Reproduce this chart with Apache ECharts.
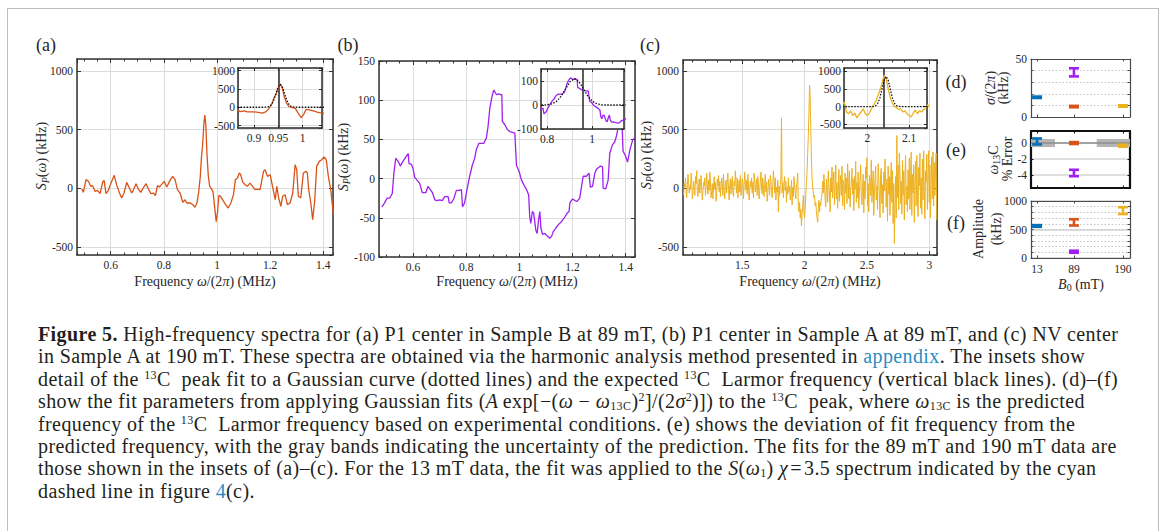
<!DOCTYPE html>
<html lang="en">
<head>
<meta charset="utf-8">
<title>Figure 5 – high-frequency spectra</title>
<script src="https://cdn.jsdelivr.net/npm/echarts@6.0.0/dist/echarts.min.js"></script>
<style>
  html, body { margin:0; padding:0; background:#fff; }
  #page { position:relative; width:1167px; height:531px; overflow:hidden; background:#fff; }
  #border { position:absolute; left:7px; top:8px; width:1152px; height:620px; border:1.5px solid #bdbdbd; box-sizing:border-box; }
  #chart { position:absolute; left:0; top:0; width:1167px; height:300px; }
  #caption { position:absolute; left:38px; top:323px; font-family:'Liberation Serif','Times New Roman',serif;
             font-size:20px; line-height:22.4px; letter-spacing:0.4px; color:#231f20; white-space:nowrap; }
  #caption .ln { display:block; }
  #caption .link { color:#2b8cc4; }
  #caption sup { font-size:60%; line-height:0; vertical-align:7px; }
  #caption sub { font-size:60%; line-height:0; vertical-align:-1.5px; }
</style>
</head>
<body>
<div id="page">
  <div id="border"></div>
  <div id="chart"></div>
  <div id="caption">
    <span class="ln"><b>Figure 5.</b> High-frequency spectra for (a) P1 center in Sample B at 89 mT, (b) P1 center in Sample A at 89 mT, and (c) NV center</span>
    <span class="ln">in Sample A at 190 mT. These spectra are obtained via the harmonic analysis method presented in <span class="link">appendix</span>. The insets show</span>
    <span class="ln">detail of the <sup>13</sup>C&nbsp; peak fit to a Gaussian curve (dotted lines) and the expected <sup>13</sup>C&nbsp; Larmor frequency (vertical black lines). (d)–(f)</span>
    <span class="ln">show the fit parameters from applying Gaussian fits (<i>A</i>&#8201;exp[−(<i>ω</i> − <i>ω</i><sub>13C</sub>)<sup>2</sup>]/(2<i>σ</i><sup>2</sup>)]) to the <sup>13</sup>C&nbsp; peak, where <i>ω</i><sub>13C</sub> is the predicted</span>
    <span class="ln">frequency of the <sup>13</sup>C&nbsp; Larmor frequency based on experimental conditions. (e) shows the deviation of fit frequency from the</span>
    <span class="ln">predicted frequency, with the gray bands indicating the uncertainty of the prediction. The fits for the 89 mT and 190 mT data are</span>
    <span class="ln">those shown in the insets of (a)–(c). For the 13 mT data, the fit was applied to the <i>S</i>(<i>ω</i><sub>1</sub>) <i>χ</i>&#8202;=&#8202;3.5 spectrum indicated by the cyan</span>
    <span class="ln">dashed line in figure <span class="link">4</span>(c).</span>
  </div>
</div>
<script>
// ---------------- data ----------------
// (a) P1 center, Sample B, 89 mT
const freqA = [0.491,0.497,0.507,0.516,0.525,0.532,0.541,0.550,0.560,0.570,0.575,0.582,0.591,0.600,0.613,0.623,0.633,0.641,0.650,0.660,
  0.670,0.679,0.685,0.695,0.704,0.713,0.723,0.733,0.742,0.751,0.761,0.768,0.776,0.783,0.792,0.801,0.811,0.823,0.833,0.842,
  0.851,0.861,0.871,0.880,0.886,0.899,0.909,0.917,0.925,0.931,0.937,0.941,0.946,0.951,0.954,0.958,0.962,0.967,0.972,0.978,
  0.985,0.991,0.997,1.002,1.007,1.014,1.022,1.030,1.042,1.052,1.062,1.069,1.077,1.084,1.089,1.097,1.106,1.114,1.124,1.134,
  1.143,1.152,1.162,1.175,1.181,1.190,1.200,1.210,1.219,1.225,1.232,1.240,1.247,1.256,1.265,1.275,1.285,1.294,1.300,1.306,
  1.315,1.325,1.335,1.340,1.345,1.353,1.360,1.368,1.375,1.385,1.394,1.403,1.411,1.419,1.428,1.438];
const spectrumA = [-5,-34,74,60,17,23,-26,-17,-45,57,68,-45,-17,40,111,23,-40,-82,-40,51,
  3,-40,-17,40,-6,-34,6,40,-6,-45,-40,-62,23,11,34,60,11,68,102,74,
  -11,-40,-119,-97,-125,-125,-139,-162,-120,-30,100,250,380,560,625,540,300,110,20,0,
  -30,-160,-285,-200,-60,-70,-100,-130,-168,-125,-54,74,88,131,116,51,31,17,45,17,
  -11,-6,-11,145,159,102,116,3,-97,17,-82,-153,-68,-54,-139,-125,-40,202,159,-68,
  -82,131,145,131,-11,-125,-267,-97,187,230,244,267,244,102,-11,-224];

// (b) P1 center, Sample A, 89 mT
const freqB = [0.483,0.493,0.502,0.512,0.522,0.528,0.535,0.544,0.552,0.562,0.572,0.582,0.585,0.594,0.600,0.606,0.615,0.625,0.635,0.648,
  0.656,0.665,0.673,0.682,0.690,0.700,0.710,0.719,0.732,0.736,0.744,0.753,0.763,0.773,0.782,0.786,0.794,0.803,0.813,0.823,
  0.832,0.838,0.848,0.857,0.866,0.876,0.882,0.889,0.897,0.904,0.914,0.924,0.929,0.934,0.936,0.945,0.954,0.964,0.974,0.983,
  0.989,0.999,1.008,1.017,1.027,1.035,1.039,1.043,1.049,1.054,1.062,1.067,1.072,1.077,1.081,1.087,1.096,1.104,1.114,1.121,
  1.127,1.137,1.146,1.158,1.171,1.180,1.187,1.190,1.200,1.209,1.217,1.227,1.240,1.252,1.262,1.267,1.275,1.284,1.290,1.305,
  1.313,1.315,1.325,1.334,1.340,1.350,1.359,1.365,1.372,1.378,1.384,1.390,1.398,1.407,1.416,1.426,1.434];
const spectrumB = [-36,-31,-25,-25,-19,7,26,22,16,22,27,32,19,18,13,2,-2,-6,-18,-18,
  -10,-14,-18,-27,-28,-27,-28,-23,-23,-31,-31,-26,-15,-15,-14,-36,-31,-14,3,17,
  26,37,45,45,45,52,66,90,105,113,107,108,107,107,73,69,63,60,59,58,
  17,9,-2,-8,-14,-21,-49,-57,-42,-44,-66,-70,-53,-42,-63,-71,-70,-73,-76,-74,
  -68,-63,-59,-55,-49,-44,-42,-31,-26,-28,-29,-25,3,3,7,-11,-10,7,12,16,
  15,-12,-13,-2,32,43,47,54,66,77,92,35,30,21,37,49,52];

// (c) NV center, Sample A, 190 mT — sampled every 5 kHz from 1.03 MHz
const freqCStart = 1.03, freqCStep = 0.005;
const spectrumC = [
  -60,40,10,90,-20,-80,30,120,50,-40,       20,-10,130,70,-90,-30,60,0,-60,100,
  40,150,-20,-70,10,80,-40,60,110,-10,      -100,-30,50,20,90,-60,10,130,30,-50,
  70,-20,140,60,-80,-30,40,-90,20,100,      -10,50,-110,-40,80,20,110,-30,60,-70,
  10,90,40,-60,120,-20,-90,30,70,-40,       50,130,-10,-100,20,80,-50,40,100,-30,
  -70,60,20,150,40,-40,90,-80,10,70,        -30,110,-60,0,80,40,-90,30,140,60,
  -20,70,-50,120,30,-100,-20,60,10,90,      -40,50,-80,130,70,-30,20,80,-60,100,
  30,-90,-20,60,140,10,-50,90,-10,-70,      40,120,-30,50,-110,-40,80,20,-60,110,
  60,-20,-80,30,150,70,-40,90,-100,10,      -30,70,-200,20,-60,30,80,600,-40,50,
  -80,40,100,-20,60,-120,10,-50,90,-30,     20,-100,-40,70,-140,10,-70,100,30,-40,
  -90,30,50,130,-150,-200,-120,-250,-180,-320,  -220,-150,-60,-200,-250,-180,-50,50,150,300,
  450,650,880,780,500,250,100,0,-30,-80,    -60,-150,-120,-200,-250,-290,-180,-100,-200,-120,
  -150,-80,-50,60,-40,120,30,-90,-160,80,   10,-120,150,40,-60,-200,90,-30,180,-80,
  60,140,-140,20,200,-90,50,-170,-40,160,   -110,30,110,-60,190,-150,70,0,-180,130,
  -40,90,-130,210,60,-90,150,-160,-20,40,   170,-50,80,-190,100,-10,230,-120,50,-80,
  140,-170,-30,80,200,-60,-140,10,120,-210, 60,-90,180,90,260,-150,40,-200,110,70,
  -60,240,-120,30,150,-230,-60,90,190,-100, 20,-180,210,80,-70,-250,120,170,-130,30,
  -210,140,-20,250,60,-160,80,-280,190,-50, 100,-230,60,220,-120,150,-300,40,-470,-150,
  100,-250,450,-80,200,-180,300,120,-130,60, -220,240,-60,150,-270,90,280,-140,20,-200,
  160,-90,260,-180,70,310,-230,120,-40,200, -290,50,230,-150,280,-60,-240,180,20,300,
  -170,90,-220,250,-100,320,-30,-260,150,60, 290,-180,110,320,-120,200,-250,40,270,-90,
  310,-150,220,-60,180,300,-270];

// Gaussian fits of the 13C peak (dotted curves in the insets)
const fitFreqA = [0.86,0.88,0.90,0.914,0.919,0.924,0.929,0.934,0.939,0.944,0.949,0.954,0.959,0.964,0.969,0.974,0.979,0.984,0.989,0.994,1.01,1.03,1.05];
const fitA     = [0,0,0,0,0,2,10,45,143,326,534,630,534,326,143,45,10,2,0,0,0,0,0];
const fitFreqB = [0.762,0.782,0.802,0.822,0.842,0.862,0.882,0.902,0.922,0.942,0.962,0.982,1.002,1.022,1.042,1.062,1.082,1.15];
const fitB     = [0,0,1,5,15,36,67,97,110,97,67,36,15,5,1,0,0,0];
const fitFreqC = [1.94,1.98,2.00,2.01,2.015,2.02,2.025,2.03,2.035,2.04,2.045,2.05,2.055,2.06,2.065,2.07,2.075,2.08,2.09,2.11,2.15];
const fitC     = [0,0,0,1,6,27,93,244,489,740,850,740,489,244,93,27,6,1,0,0,0];

// expected 13C Larmor frequencies (MHz)
const larmorA = 0.954, larmorB = 0.957, larmorC = 2.045;

// fit parameters vs field: 13 mT, 89 mT (Sample B), 89 mT (Sample A), 190 mT
const fieldB0     = [13, 89, 89, 190];
const fieldTicks  = [13, 89, 190];
const sigmaKHz    = [17, 9, 38.5, 9.5];
const sigmaErr    = [0.6, 0.6, 3.5, 0.6];
const sigmaTicks  = [0, 50];
const freqDevPct  = [0.2, 0.0, -3.73, -0.33];
const freqDevErr  = [0.37, 0.12, 0.4, 0.12];
const freqDevTicks = [-4, -2, 0];
const ampKHz      = [562, 625, 110, 831];
const ampErr      = [15, 55, 18, 60];
const ampTicks    = [0, 500, 1000];
// uncertainty bands of the predicted frequency (field range, ± % error)
const bandFrom = [0, 136], bandTo = [50, 204.5], bandHalf = [0.5, 0.5];
const predictedDev = 0;

// ---------------- styles ----------------
const FONT = "'Liberation Serif','Times New Roman',serif";
const INK = '#262626';
const GRID_LINE = '#dcdcdc';
const ORANGE = '#D95319', PURPLE = '#A020F0', YELLOW = '#EDB120', BLUE = '#0072BD';
const pointColors = [BLUE, ORANGE, PURPLE, YELLOW];
const plain = v => String(+(+v).toFixed(6));

const grids = [], xAxes = [], yAxes = [], series = [], graphics = [];

function addGrid(left, top, width, height) {
  grids.push({left, top, width, height, containLabel:false, outerBoundsMode:'none'});
  return grids.length - 1;
}

function addAxis(dim, gi, o) {
  const color = o.color || INK;
  const ax = {
    type:'value', gridIndex:gi, position:o.pos, min:o.min, max:o.max, z:o.z || 0,
    axisLine:{show:o.line !== false, onZero:false, lineStyle:{color, width:o.width || 1.5}},
    axisTick:{show:!!o.tick, inside:true, length:o.tick || 0, lineStyle:{color, width:1}},
    axisLabel:{show:!!o.labels, margin:(o.margin != null ? o.margin : 4), fontFamily:FONT, fontSize:o.fontSize || 11.5,
               color:INK, showMinLabel:!!o.showMin, showMaxLabel:!!o.showMax, hideOverlap:false, formatter:plain},
    splitLine:{show:!!o.split, lineStyle:o.splitStyle || {color:GRID_LINE, width:1}},
    minorTick:{show:false}, minorSplitLine:{show:false}
  };
  if (o.step) { ax.minInterval = o.step; ax.maxInterval = o.step; }
  if (o.interval) ax.interval = o.interval;
  if (o.custom) { ax.axisLabel.customValues = o.custom; ax.axisTick.customValues = o.custom; }
  if (o.labelValues) ax.axisLabel.customValues = o.labelValues;
  const list = dim === 'x' ? xAxes : yAxes;
  list.push(ax);
  return list.length - 1;
}

// a boxed panel: labelled bottom/left axes plus mirrored top/right frame axes
function panel(gi, x, y, s) {
  const base = {z:s.z, color:s.color, width:s.width};
  const xi = addAxis('x', gi, Object.assign({}, base, x, {pos:'bottom', labels:x.labels !== false, split:x.split !== false, tick:s.tick, margin:x.margin}));
  addAxis('x', gi, Object.assign({}, base, x, {pos:'top', labels:false, split:false, tick:s.tick}));
  if (x.minor) {
    addAxis('x', gi, {z:s.z, color:s.color, min:x.min, max:x.max, step:x.minor, pos:'bottom', line:false, tick:s.minorTick});
    addAxis('x', gi, {z:s.z, color:s.color, min:x.min, max:x.max, step:x.minor, pos:'top', line:false, tick:s.minorTick});
  }
  const yi = addAxis('y', gi, Object.assign({}, base, y, {pos:'left', labels:y.labels !== false, split:y.split !== false, tick:s.tick, margin:y.margin}));
  addAxis('y', gi, Object.assign({}, base, y, {pos:'right', labels:false, split:false, tick:s.tick, labelValues:null}));
  return {x:xi, y:yi};
}

const pairs = (xs, ys) => xs.map((v, i) => [v, ys[i]]);
const freqC = spectrumC.map((_, i) => +(freqCStart + i * freqCStep).toFixed(3));

// ---------------- grids ----------------
const gA = addGrid(77, 59, 256, 196);
const gB = addGrid(379, 61, 256, 196);
const gC = addGrid(683, 60, 254, 195);
const gAi = addGrid(238, 68, 84, 60);
const gBi = addGrid(541, 69, 83, 60);
const gCi = addGrid(844, 68, 83, 60);
const gD = addGrid(1031, 59, 99, 58);
const gE = addGrid(1031, 131, 99, 57);
const gF = addGrid(1031, 201, 99, 57);

const mainStyle = {tick:4, minorTick:2.5, color:'#333', width:1.5};
const A = panel(gA, {min:0.473, max:1.4365, step:0.2, minor:0.05, margin:4}, {min:-568, max:1102, step:500}, mainStyle);
const B = panel(gB, {min:0.472, max:1.435, step:0.2, minor:0.05, margin:4}, {min:-100, max:150, interval:50, showMin:true, showMax:true}, mainStyle);
const C = panel(gC, {min:1.025, max:3.062, step:0.5, minor:0.1, margin:4}, {min:-568, max:1094, step:500}, mainStyle);

const insetStyle = {tick:3, color:'#2a2a2a', width:1.5, z:4};
const Ai = panel(gAi, {min:0.867, max:1.04, step:0.05, margin:4}, {min:-565, max:1070, step:500, margin:3}, insetStyle);
const Bi = panel(gBi, {min:0.773, max:1.142, step:0.2, margin:4}, {min:-100, max:150, interval:100, showMin:true, margin:3}, insetStyle);
const Ci = panel(gCi, {min:1.944, max:2.143, step:0.1, margin:4}, {min:-600, max:1085, step:500, margin:3}, insetStyle);

const dotted = {color:'#c4c4c4', width:1, type:[1.5, 2]};
const D = panel(gD, {min:0.5, max:204.5, custom:fieldTicks, labels:false, split:false, showMin:true, showMax:true},
  {min:0, max:50, interval:10, showMin:true, showMax:true, splitStyle:dotted, labelValues:sigmaTicks.filter(v => v !== 0)},
  {tick:2.5, color:'#4a4a4a', width:1.2});
const E = panel(gE, {min:0.5, max:204.5, custom:fieldTicks, labels:false, split:false, showMin:true, showMax:true},
  {min:-5.6, max:1.5, step:2, showMin:true, showMax:true, splitStyle:{color:'#d6d6d6', width:1.5}, labelValues:freqDevTicks},
  {tick:2.5, color:'#111', width:2.2});
const F = panel(gF, {min:0.5, max:204.5, custom:fieldTicks, labels:true, split:false, showMin:true, showMax:true, margin:5},
  {min:0, max:1000, interval:100, showMin:true, showMax:true, splitStyle:dotted, labelValues:ampTicks},
  {tick:2.5, color:'#4a4a4a', width:1.2});
// major grid line of (f)
addAxis('y', gF, {min:0, max:1000, interval:500, pos:'left', line:false, labels:false, split:true, splitStyle:{color:'#cfcfcf', width:1.5}});

// ---------------- series ----------------
function trace(ax, data, color, width, z) {
  series.push({type:'line', xAxisIndex:ax.x, yAxisIndex:ax.y, data, showSymbol:false, symbol:'none', silent:true,
    lineStyle:{color, width}, itemStyle:{color}, z, clip:true, animation:false});
  return series[series.length - 1];
}
trace(A, pairs(freqA, spectrumA), ORANGE, 1.3, 2);
trace(B, pairs(freqB, spectrumB), PURPLE, 1.3, 2);
trace(C, pairs(freqC, spectrumC), YELLOW, 1.0, 2);

function inset(ax, xs, ys, color, fx, fy, larmor) {
  trace(ax, pairs(xs, ys), color, 1.3, 5);
  const fit = trace(ax, pairs(fx, fy), '#111', 1.3, 6);
  fit.lineStyle.type = [1.5, 1.5];
  fit.markLine = {silent:true, symbol:['none', 'none'], label:{show:false}, animation:false,
    lineStyle:{color:'#333', width:1.6, type:'solid'}, data:[{xAxis:larmor}]};
}
inset(Ai, freqA, spectrumA, ORANGE, fitFreqA, fitA, larmorA);
inset(Bi, freqB, spectrumB, PURPLE, fitFreqB, fitB, larmorB);
inset(Ci, freqC, spectrumC, YELLOW, fitFreqC, fitC, larmorC);

// uncertainty bands and predicted-frequency line in (e)
series.push({type:'custom', xAxisIndex:E.x, yAxisIndex:E.y, z:3, silent:true, clip:true, animation:false,
  data: bandFrom.map((s, i) => [s, bandTo[i], bandHalf[i]]),
  renderItem: (p, api) => {
    const a = api.coord([api.value(0), predictedDev + api.value(2)]);
    const b = api.coord([api.value(1), predictedDev - api.value(2)]);
    return {type:'rect', shape:{x:a[0], y:a[1], width:b[0] - a[0], height:b[1] - a[1]}, style:{fill:'#b5b5b5'}};
  },
  markLine:{silent:true, symbol:['none', 'none'], label:{show:false}, animation:false,
    lineStyle:{color:'#8f8f8f', width:1.5, type:'solid'}, data:[{yAxis:predictedDev}]}
});

function errorBars(ax, vals, errs) {
  series.push({type:'custom', xAxisIndex:ax.x, yAxisIndex:ax.y, z:5, silent:true, animation:false,
    data: fieldB0.map((b, i) => [b, vals[i], errs[i], i]),
    renderItem: (p, api) => {
      const x = api.value(0), y = api.value(1), e = api.value(2), k = api.value(3);
      const t = api.coord([x, y + e]), b = api.coord([x, y - e]);
      const hw = 5, st = {stroke:pointColors[k], lineWidth:2.6, fill:'none'};
      return {type:'group', children:[
        {type:'line', shape:{x1:t[0], y1:t[1], x2:b[0], y2:b[1]}, style:st},
        {type:'line', shape:{x1:t[0] - hw, y1:t[1], x2:t[0] + hw, y2:t[1]}, style:st},
        {type:'line', shape:{x1:b[0] - hw, y1:b[1], x2:b[0] + hw, y2:b[1]}, style:st}
      ]};
    }
  });
}
errorBars(D, sigmaKHz, sigmaErr);
errorBars(E, freqDevPct, freqDevErr);
errorBars(F, ampKHz, ampErr);

// ---------------- insets' white backgrounds and text ----------------
[gAi, gBi, gCi].forEach(gi => {
  const g = grids[gi];
  graphics.push({type:'rect', z:3, silent:true, shape:{x:g.left, y:g.top, width:g.width, height:g.height}, style:{fill:'#fff'}});
});

const TS = 14;
const rich = {
  r:{fontFamily:FONT, fontSize:TS, fill:INK},
  i:{fontFamily:FONT, fontSize:TS, fill:INK, fontStyle:'italic'},
  s:{fontFamily:FONT, fontSize:10, fill:INK, padding:[7, 0, 0, 0]},
  si:{fontFamily:FONT, fontSize:10, fill:INK, fontStyle:'italic', padding:[7, 0, 0, 0]},
  p:{fontFamily:FONT, fontSize:18, fill:INK}
};
function text(x, y, str, rot) {
  graphics.push({type:'text', x, y, rotation:rot || 0, z:10, silent:true,
    style:{text:str, rich, x:0, y:0, align:'center', verticalAlign:'middle', fontFamily:FONT, fontSize:TS, fill:INK}});
}
const UP = Math.PI / 2;
const freqTitle = '{r|Frequency }{i|ω}{r|/(2}{i|π}{r|) (MHz)}';
const spTitle = '{i|S}{si|P}{r|(}{i|ω}{r|) (kHz)}';
text(46, 45, '{p|(a)}'); text(348, 45, '{p|(b)}'); text(650, 45, '{p|(c)}');
text(956, 82, '{p|(d)}'); text(956, 150, '{p|(e)}'); text(956, 223, '{p|(f)}');
text(205, 281, freqTitle); text(507, 281, freqTitle); text(810, 281, freqTitle);
text(41.5, 156, spTitle, UP); text(343, 157, spTitle, UP); text(646, 155, spTitle, UP);
text(990, 88, '{i|σ}{r|/(2}{i|π}{r|)}', UP); text(1003, 88, '{r|(kHz)}', UP);
text(993, 160, '{i|ω}{s|13}{r|C}', UP); text(1007, 159, '{r|% Error}', UP);
text(978, 229, '{r|Amplitude}', UP); text(996, 229, '{r|(kHz)}', UP);
text(1081, 284, '{i|B}{s|0}{r| (mT)}');

const chart = echarts.init(document.getElementById('chart'), null, {renderer:'svg'});
chart.setOption({
  animation:false,
  backgroundColor:'transparent',
  grid:grids, xAxis:xAxes, yAxis:yAxes, series,
  graphic:{elements:graphics}
});

// base tick label of (d), placed through the panel's own scale
const base = chart.convertToPixel({xAxisIndex:D.x, yAxisIndex:D.y}, [xAxes[D.x].min, sigmaTicks[0]]);
graphics.push({type:'text', x:base[0] - 4, y:base[1], z:10, silent:true,
  style:{text:plain(sigmaTicks[0]), align:'right', verticalAlign:'middle', fontFamily:FONT, fontSize:11.5, fill:INK}});
chart.setOption({graphic:{elements:graphics}});
</script>
</body>
</html>
